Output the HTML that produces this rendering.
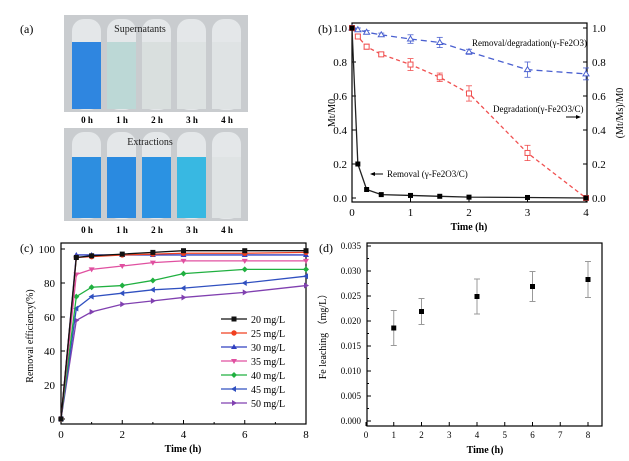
<!DOCTYPE html>
<html><head><meta charset="utf-8">
<style>
body{margin:0;background:#fff;width:629px;height:461px;overflow:hidden}
svg{font-family:"Liberation Serif",serif;display:block}
</style></head><body>
<svg id="fig" width="629" height="461" viewBox="0 0 629 461" xmlns="http://www.w3.org/2000/svg">
<text x="20" y="33" font-size="12">(a)</text>
<g id="pa"></g>
<g id="pb"></g>
<g id="pc"></g>
<g id="pd"></g>
</svg>
<script>
// ---------- data ----------
const vialTimes = ["0 h","1 h","2 h","3 h","4 h"];
const superColors = ["#2f86e0","#bcd8d6","#d9dfde","#dde2e2","#dfe3e4"];
const extractColors = ["#2d8ee0","#2a8ae0","#2b92e2","#38b8e2","#dfe3e4"];

const bTimes = [0,0.1,0.25,0.5,1,1.5,2,3,4];
const bRemoval = [1.0,0.2,0.05,0.02,0.015,0.01,0.005,0.003,0.0];
const bDegrad = [1.0,0.95,0.89,0.845,0.785,0.71,0.615,0.265,0.0];
const bDegradErr = [0,0.01,0.015,0.01,0.035,0.025,0.045,0.045,0];
const bRemDeg = [1.0,0.99,0.975,0.96,0.935,0.915,0.86,0.755,0.73];
const bRemDegErr = [0,0.01,0.01,0.01,0.025,0.03,0.015,0.045,0.035];
const bTicksX = [0,1,2,3,4];
const bTicksY = [0,0.2,0.4,0.6,0.8,1.0];

const cTimes = [0,0.5,1,2,3,4,6,8];
const cLabels = ["20 mg/L","25 mg/L","30 mg/L","35 mg/L","40 mg/L","45 mg/L","50 mg/L"];
const c20 = [0,95,96,97,98,99,99,99];
const c25 = [0,95,95.5,96.5,97,97.5,97.5,98];
const c30 = [0,96.5,96.5,96.5,96.5,96.5,96.5,96.5];
const c35 = [0,85,88,90,92,93,93,93];
const c40 = [0,72,77.5,78.5,81.5,85.5,88,88];
const c45 = [0,65,72,74,76,77,80,84];
const c50 = [0,58,63,67.5,69.5,71.5,74.5,78.5];
const cTicksX = [0,2,4,6,8];
const cTicksY = [0,20,40,60,80,100];

const dTimes = [1,2,4,6,8];
const dLeach = [0.0186,0.0219,0.0249,0.0269,0.0283];
const dErr = [0.0035,0.0026,0.0035,0.003,0.0036];
const dTicksX = [0,1,2,3,4,5,6,7,8];
const dTicksY = [0,0.005,0.01,0.015,0.02,0.025,0.03,0.035];

// ---------- helpers ----------
const NS="http://www.w3.org/2000/svg";
function mk(parent,tag,attrs,txt){const e=document.createElementNS(NS,tag);for(const k in attrs)e.setAttribute(k,attrs[k]);if(txt!==undefined)e.textContent=txt;parent.appendChild(e);return e;}
function lin(d0,d1,r0,r1){return v=>r0+(v-d0)/(d1-d0)*(r1-r0);}

// ---------- panel a ----------
(function(){
  const g=document.getElementById('pa');
  const photos=[{y:15,h:97,cols:superColors,top:42,title:"Supernatants",ly:123},{y:128,h:93,cols:extractColors,top:157,title:"Extractions",ly:233}];
  photos.forEach((p,pi)=>{
    const bg=mk(g,'rect',{x:64,y:p.y,width:184,height:p.h,fill:'#c9cccf'});
    
    
    vialTimes.forEach((t,i)=>{
      const x=72+i*35;
      const v=mk(g,'rect',{x:x,y:p.y+4,width:29,height:p.h-6,rx:12,fill:'#e4e7e9'});
      
      
      const l=mk(g,'rect',{x:x,y:p.top,width:29,height:p.y+p.h-3-p.top,fill:p.cols[i]});
      
      
      const lb=mk(g,'text',{x:x+15,y:p.ly,'font-size':9,'font-weight':'bold','text-anchor':'middle'},t);
      
      
    });
    const tt=mk(g,'text',{x:pi?150:140,y:p.y+17,'font-size':10,'text-anchor':'middle',fill:'#222'},p.title);
    
    
  });
})();

function axesBox(g,L,T,R,B){const r=mk(g,'rect',{x:L,y:T,width:R-L,height:B-T,fill:'none',stroke:'#000','stroke-width':1.2});}

// ---------- panel b ----------
(function(){
  const g=document.getElementById('pb');
  const L=352,R=587,T=23,B=202;
  const X=lin(0,4,352,586),Y=lin(0,1,198,28);
  axesBox(g,L,T,R,B);
  bTicksX.forEach(t=>{mk(g,'line',{x1:X(t),x2:X(t),y1:B,y2:B-4,stroke:'#000'});
    const e=mk(g,'text',{x:X(t),y:216,'font-size':11,'text-anchor':'middle'},t);});
  bTicksY.forEach(t=>{mk(g,'line',{x1:L,x2:L+4,y1:Y(t),y2:Y(t),stroke:'#000'});mk(g,'line',{x1:R,x2:R-4,y1:Y(t),y2:Y(t),stroke:'#000'});
    const e=mk(g,'text',{x:L-5,y:Y(t)+4,'font-size':11,'text-anchor':'end'},t.toFixed(1));
    const e2=mk(g,'text',{x:R+5,y:Y(t)+4,'font-size':11},t.toFixed(1));});
  const xt=mk(g,'text',{x:469,y:230,'font-size':10,'font-weight':'bold','text-anchor':'middle'},'Time (h)');
  const pl=mk(g,'text',{x:318,y:33,'font-size':12},'(b)');
  const yl=mk(g,'text',{transform:'translate(335,113) rotate(-90)','font-size':10,'text-anchor':'middle'},'Mt/M0');
  const yr=mk(g,'text',{transform:'translate(623,113) rotate(-90)','font-size':10,'text-anchor':'middle'},'(Mt/Ms)/M0');
  function series(vals,errs,color,dash,marker,name){
    const pts=bTimes.map((t,i)=>X(t)+','+Y(vals[i])).join(' ');
    const p=mk(g,'polyline',{points:pts,fill:'none',stroke:color,'stroke-width':1.3,'stroke-dasharray':dash});
    
    bTimes.forEach((t,i)=>{
      const cx=X(t),cy=Y(vals[i]);
      if(errs&&errs[i]>0){mk(g,'line',{x1:cx,x2:cx,y1:Y(vals[i]+errs[i]),y2:Y(vals[i]-errs[i]),stroke:color,'stroke-width':0.8});
        mk(g,'line',{x1:cx-3,x2:cx+3,y1:Y(vals[i]+errs[i]),y2:Y(vals[i]+errs[i]),stroke:color,'stroke-width':0.8});
        mk(g,'line',{x1:cx-3,x2:cx+3,y1:Y(vals[i]-errs[i]),y2:Y(vals[i]-errs[i]),stroke:color,'stroke-width':0.8});}
      let m;
      if(marker==='sq') m=mk(g,'rect',{x:cx-2.5,y:cy-2.5,width:5,height:5,fill:'#000'});
      else if(marker==='osq') m=mk(g,'rect',{x:cx-2.5,y:cy-2.5,width:5,height:5,fill:'#fff',stroke:color});
      else m=mk(g,'polygon',{points:`${cx},${cy-3} ${cx+3},${cy+2} ${cx-3},${cy+2}`,fill:'#fff',stroke:color});
      
    });
  }
  series(bRemDeg,bRemDegErr,'#4a60d0','6,4','tri','removal-degradation');
  series(bDegrad,bDegradErr,'#f05050','4,3','osq','degradation');
  series(bRemoval,null,'#222','','sq','removal');
  const a1=mk(g,'text',{x:472,y:46,'font-size':9},'Removal/degradation(γ-Fe2O3)');
  const a2=mk(g,'text',{x:493,y:112,'font-size':9},'Degradation(γ-Fe2O3/C)');
  mk(g,'line',{x1:566,x2:578,y1:117,y2:117,stroke:'#000'});mk(g,'polygon',{points:'581,117 576,115 576,119',fill:'#000'});
  const a3=mk(g,'text',{x:387,y:177,'font-size':9},'Removal (γ-Fe2O3/C)');
  mk(g,'line',{x1:373,x2:383,y1:174,y2:174,stroke:'#000'});mk(g,'polygon',{points:'370,174 375,172 375,176',fill:'#000'});
})();

// ---------- panel c ----------
(function(){
  const g=document.getElementById('pc');
  const L=61,R=306,T=243,B=424;
  const X=lin(0,8,61,306),Y=lin(0,100,419,249);
  axesBox(g,L,T,R,B);
  cTicksX.forEach(t=>{mk(g,'line',{x1:X(t),x2:X(t),y1:B,y2:B-4,stroke:'#000'});if(t<8)mk(g,'line',{x1:X(t+1),x2:X(t+1),y1:B,y2:B-2,stroke:'#000'});
    const e=mk(g,'text',{x:X(t),y:438,'font-size':11,'text-anchor':'middle'},t);});
  cTicksY.forEach(t=>{mk(g,'line',{x1:L,x2:L+4,y1:Y(t),y2:Y(t),stroke:'#000'});
    const e=mk(g,'text',{x:L-6,y:Y(t)+4,'font-size':11,'text-anchor':'end'},t);});
  const xt=mk(g,'text',{x:183,y:452,'font-size':10,'font-weight':'bold','text-anchor':'middle'},'Time (h)');
  const pl=mk(g,'text',{x:20,y:252,'font-size':12},'(c)');
  const yl=mk(g,'text',{transform:'translate(33,336) rotate(-90)','font-size':10,'text-anchor':'middle'},'Removal efficiency(%)');
  const all=[c20,c25,c30,c35,c40,c45,c50];
  const cols=['#111','#f04020','#3040c0','#e050a0','#20b040','#3050c0','#8040b0'];
  const marks=['sq','ci','tu','td','di','tl','tr'];
  function marker(cx,cy,m,col){
    let e;
    if(m==='sq')e=mk(g,'rect',{x:cx-2.5,y:cy-2.5,width:5,height:5,fill:col});
    else if(m==='ci')e=mk(g,'circle',{cx:cx,cy:cy,r:2.7,fill:col});
    else if(m==='tu')e=mk(g,'polygon',{points:`${cx},${cy-3} ${cx+3},${cy+2} ${cx-3},${cy+2}`,fill:col});
    else if(m==='td')e=mk(g,'polygon',{points:`${cx},${cy+3} ${cx+3},${cy-2} ${cx-3},${cy-2}`,fill:col});
    else if(m==='di')e=mk(g,'polygon',{points:`${cx},${cy-3} ${cx+3},${cy} ${cx},${cy+3} ${cx-3},${cy}`,fill:col});
    else if(m==='tl')e=mk(g,'polygon',{points:`${cx-3},${cy} ${cx+2},${cy-3} ${cx+2},${cy+3}`,fill:col});
    else e=mk(g,'polygon',{points:`${cx+3},${cy} ${cx-2},${cy-3} ${cx-2},${cy+3}`,fill:col});
    return e;
  }
  for(let s=all.length-1;s>=0;s--){
    const vals=all[s];
    const p=mk(g,'polyline',{points:cTimes.map((t,i)=>X(t)+','+Y(vals[i])).join(' '),fill:'none',stroke:cols[s],'stroke-width':1.3});
    
    cTimes.forEach((t,i)=>{const e=marker(X(t),Y(vals[i]),marks[s],cols[s]);});
  }
  cLabels.forEach((lab,i)=>{
    const y=319+i*14;
    mk(g,'line',{x1:221,x2:247,y1:y,y2:y,stroke:cols[i],'stroke-width':1.3});
    marker(234,y,marks[i],cols[i]);
    const e=mk(g,'text',{x:251,y:y+4,'font-size':10},lab);
  });
})();

// ---------- panel d ----------
(function(){
  const g=document.getElementById('pd');
  const L=367,R=602,T=243,B=426;
  const X=lin(0,8,366,588),Y=lin(0,0.035,421,246);
  axesBox(g,L,T,R,B);
  dTicksX.forEach(t=>{mk(g,'line',{x1:X(t),x2:X(t),y1:B,y2:B-4,stroke:'#000'});
    const e=mk(g,'text',{x:X(t),y:438,'font-size':9,'text-anchor':'middle'},t);});
  dTicksY.forEach(t=>{mk(g,'line',{x1:L,x2:L+4,y1:Y(t),y2:Y(t),stroke:'#000'});if(t<0.034)mk(g,'line',{x1:L,x2:L+2,y1:Y(t+0.0025),y2:Y(t+0.0025),stroke:'#000'});
    const e=mk(g,'text',{x:L-6,y:Y(t)+3,'font-size':9,'text-anchor':'end'},t.toFixed(3));});
  const xt=mk(g,'text',{x:485,y:453,'font-size':10,'font-weight':'bold','text-anchor':'middle'},'Time (h)');
  const pl=mk(g,'text',{x:319,y:252,'font-size':12},'(d)');
  const yl=mk(g,'text',{transform:'translate(326,334) rotate(-90)','font-size':10,'text-anchor':'middle'},'Fe leaching （mg/L）');
  dTimes.forEach((t,i)=>{
    const cx=X(t),y0=Y(dLeach[i]-dErr[i]),y1=Y(dLeach[i]+dErr[i]);
    mk(g,'line',{x1:cx,x2:cx,y1:y0,y2:y1,stroke:'#999','stroke-width':1});
    mk(g,'line',{x1:cx-3,x2:cx+3,y1:y0,y2:y0,stroke:'#999'});
    mk(g,'line',{x1:cx-3,x2:cx+3,y1:y1,y2:y1,stroke:'#999'});
    const m=mk(g,'rect',{x:cx-2.5,y:Y(dLeach[i])-2.5,width:5,height:5,fill:'#000'});
    
  });
})();
</script>
</body></html>
